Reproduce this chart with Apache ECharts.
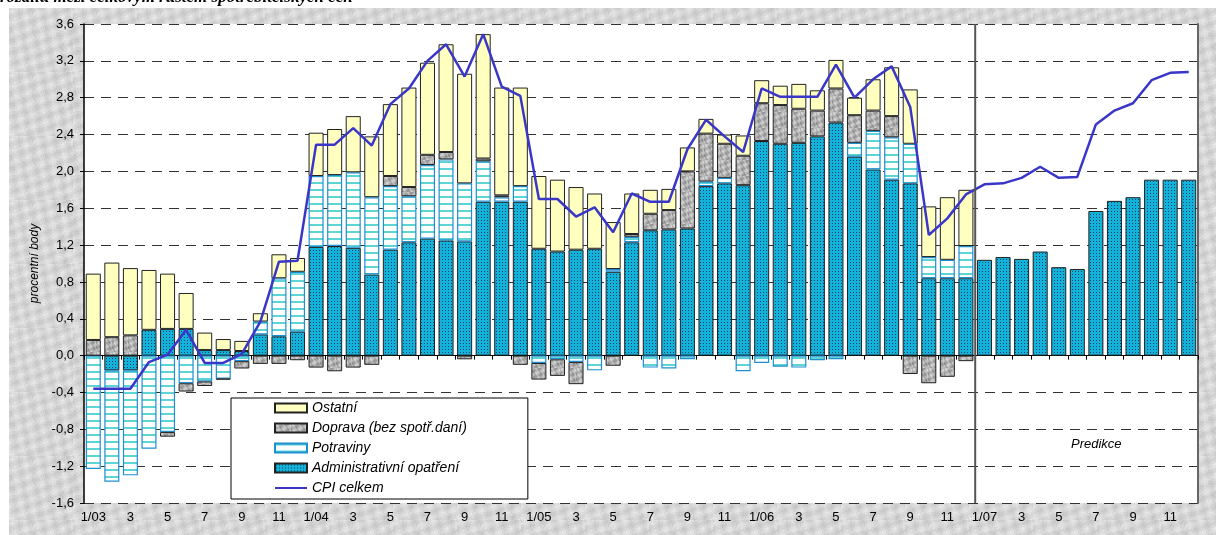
<!DOCTYPE html>
<html>
<head>
<meta charset="utf-8">
<script src="https://cdn.jsdelivr.net/npm/echarts@6/dist/echarts.min.js"></script>
<style>
html,body{margin:0;padding:0;background:#fff;}
#wrap{position:relative;width:1216px;height:535px;overflow:hidden;background:#fff;}
#tex{position:absolute;left:9px;top:8px;width:1207px;height:527px;}
#chart{position:absolute;left:0;top:0;width:1216px;height:535px;}
</style>
</head>
<body>
<div id="wrap"><div id="tex"></div><div id="chart"></div></div>
<script>
// ---------- DATA ----------
const categories = [
 '1/03','2','3','4','5','6','7','8','9','10','11','12',
 '1/04','2','3','4','5','6','7','8','9','10','11','12',
 '1/05','2','3','4','5','6','7','8','9','10','11','12',
 '1/06','2','3','4','5','6','7','8','9','10','11','12',
 '1/07','2','3','4','5','6','7','8','9','10','11','12'
];
const yTicks = [-1.6,-1.2,-0.8,-0.4,0,0.4,0.8,1.2,1.6,2.0,2.4,2.8,3.2,3.6];
const seriesNames = ['Ostatní','Doprava (bez spotř.daní)','Potraviny','Administrativní opatření','CPI celkem'];

const administrativni = [
 null,-0.16,-0.16,0.28,0.29,0.29,0.06,0.06,0.05,0.23,0.21,0.26,
 1.18,1.19,1.17,0.88,1.15,1.23,1.27,1.25,1.24,1.67,1.67,1.67,
 1.16,1.13,1.15,1.16,0.91,1.23,1.36,1.37,1.38,1.84,1.87,1.85,
 2.33,2.30,2.31,2.38,2.53,2.16,2.02,1.91,1.87,0.84,0.84,0.84,
 1.04,1.07,1.05,1.13,0.96,0.94,1.57,1.68,1.72,1.91,1.91,1.91
];
const potraviny = [
 -1.23,-1.21,-1.14,-1.01,-0.83,-0.30,-0.28,-0.25,-0.06,0.14,0.63,0.65,
 0.77,0.77,0.82,0.84,0.69,0.50,0.80,0.88,0.63,0.44,0.05,0.17,
 -0.08,-0.04,-0.07,-0.16,0.03,0.06,-0.13,-0.14,-0.04,0.05,0.06,-0.17,
 -0.08,-0.12,-0.13,-0.05,-0.04,0.15,0.42,0.46,0.43,0.23,0.20,0.35,
 null,null,null,null,null,null,null,null,null,null,null,null
];
const doprava = [
 0.17,0.20,0.22,null,-0.05,-0.09,-0.05,-0.01,-0.08,-0.09,-0.09,-0.05,
 -0.13,-0.17,-0.13,-0.10,0.11,0.10,0.11,0.08,-0.04,0.03,0.02,-0.10,
 -0.18,-0.18,-0.24,null,-0.11,0.03,0.18,0.21,0.62,0.52,0.37,0.32,
 0.41,0.42,0.37,0.28,0.37,0.30,0.22,0.23,-0.20,-0.30,-0.23,-0.06,
 null,null,null,null,null,null,null,null,null,null,null,null
];
const ostatni = [
 0.72,0.81,0.73,0.65,0.60,0.39,0.19,0.12,0.11,0.09,0.26,0.15,
 0.47,0.50,0.61,0.66,0.78,1.08,1.00,1.17,1.19,1.35,1.17,1.07,
 0.79,0.78,0.68,0.60,0.51,0.44,0.26,0.23,0.26,0.16,0.10,0.22,
 0.25,0.21,0.27,0.22,0.31,0.19,0.34,0.53,0.59,0.55,0.68,0.61,
 null,null,null,null,null,null,null,null,null,null,null,null
];
const cpiCelkem = [
 -0.36,-0.36,-0.36,-0.07,0.01,0.28,-0.08,-0.08,0.02,0.37,1.02,1.03,
 2.29,2.29,2.47,2.28,2.73,2.90,3.20,3.38,3.03,3.49,2.92,2.82,
 1.70,1.70,1.51,1.61,1.34,1.76,1.67,1.67,2.24,2.56,2.38,2.21,
 2.90,2.81,2.81,2.81,3.16,2.80,3.00,3.14,2.70,1.31,1.49,1.75,
 1.86,1.87,1.93,2.05,1.93,1.94,2.51,2.66,2.74,2.99,3.07,3.08
];
const titleText = 'rozdílu mezi celkovým růstem spotřebitelských cen';
const predikceText = 'Predikce';
const yAxisName = 'procentní body';

// ---------- PATTERNS (style only) ----------
function mk(w,h,draw){const c=document.createElement('canvas');c.width=w;c.height=h;draw(c.getContext('2d'),w,h);return c;}
const adminPat = mk(3,3,(g)=>{g.fillStyle='#12b2da';g.fillRect(0,0,3,3);g.fillStyle='#0a4466';g.fillRect(1,1,1,1);});
const potrPat = mk(4,7,(g)=>{g.fillStyle='#ffffff';g.fillRect(0,0,4,7);g.fillStyle='#5ed4d4';g.fillRect(0,0,4,2);});
const dopPat = mk(16,16,(g)=>{
  for(let y=0;y<16;y++)for(let x=0;x<16;x++){
    const v=Math.round(178+34*Math.sin(x*0.7+y*0.4)*Math.cos(y*0.6-x*0.3)+10*Math.sin(x*1.9-y*1.3));
    g.fillStyle='rgb('+v+','+v+','+v+')';g.fillRect(x,y,1,1);
  }
});
const texPat = mk(64,64,(g)=>{
  for(let y=0;y<64;y++)for(let x=0;x<64;x++){
    let h=((x*374761393)^(y*668265263))>>>0; h=((h^(h>>>13))*1274126177)>>>0; h=(h^(h>>>16))>>>0;
    const n=(h%1000)/1000;
    const s=Math.sin(x*0.35+y*0.22)*Math.cos(y*0.31-x*0.17);
    const v=Math.round(214+14*s+14*(n-0.5));
    g.fillStyle='rgb('+v+','+v+','+v+')';g.fillRect(x,y,1,1);
  }
});
document.getElementById('tex').style.backgroundImage='url('+texPat.toDataURL()+')';

// ---------- CHART ----------
const chart = echarts.init(document.getElementById('chart'), null, {renderer:'canvas'});
const FONT = "'Liberation Sans', Arial, sans-serif";
const fmt = v => (Math.round(v*10)/10).toFixed(1).replace('.',',');

const option = {
  animation:false,
  backgroundColor:'transparent',
  textStyle:{fontFamily:FONT},
  grid:{left:84,right:18,top:24,bottom:32,show:true,backgroundColor:'#ffffff',borderWidth:0},
  legend:{
    orient:'vertical',left:231,top:398,
    backgroundColor:'#ffffff',borderColor:'#000',borderWidth:1,
    padding:[3,61,4,43],itemGap:6,itemWidth:32,itemHeight:9,
    textStyle:{fontFamily:FONT,fontSize:14,fontStyle:'italic',color:'#000',lineHeight:14},
    data:[
      {name:seriesNames[0],icon:'rect'},
      {name:seriesNames[1],icon:'rect'},
      {name:seriesNames[2],icon:'rect'},
      {name:seriesNames[3],icon:'rect'},
      {name:seriesNames[4],icon:'path://M0,0 L32,0 L32,2 L0,2 Z'}
    ]
  },
  xAxis:[
    {type:'category',data:categories,position:'bottom',
     axisLine:{onZero:true,lineStyle:{color:'#000',width:1}},
     axisTick:{show:true,interval:0,length:4,lineStyle:{color:'#000'}},
     axisLabel:{show:false},splitLine:{show:false}},
    {type:'category',data:categories,position:'bottom',
     axisLine:{show:false,onZero:false},axisTick:{show:false},
     axisLabel:{show:true,interval:1,margin:8,fontFamily:FONT,fontSize:13,color:'#000'},
     splitLine:{show:false}}
  ],
  yAxis:[
    {type:'value',min:-1.6,max:3.6,interval:0.4,position:'left',
     name:yAxisName,nameLocation:'middle',nameGap:40,
     nameTextStyle:{fontFamily:FONT,fontSize:12,fontStyle:'italic',color:'#000'},
     axisLine:{show:true,lineStyle:{color:'#000',width:1.5}},
     axisTick:{show:true,length:4,lineStyle:{color:'#000'}},
     axisLabel:{formatter:fmt,fontFamily:FONT,fontSize:13,color:'#000',margin:10},
     splitLine:{show:true,lineStyle:{color:'#333',type:[10,7],width:1}}},
    {type:'value',min:-1.6,max:3.6,interval:0.4,position:'right',
     axisLine:{show:true,lineStyle:{color:'#666',width:2}},
     axisTick:{show:false},axisLabel:{show:false},splitLine:{show:false}}
  ],
  series:[
    {name:seriesNames[3],type:'bar',stack:'s',data:administrativni,barCategoryGap:'19%',
     itemStyle:{color:{image:adminPat,repeat:'repeat'},borderColor:'#222',borderWidth:1}},
    {name:seriesNames[2],type:'bar',stack:'s',data:potraviny,
     itemStyle:{color:{image:potrPat,repeat:'repeat'},borderColor:'#1f8fd0',borderWidth:1.2}},
    {name:seriesNames[1],type:'bar',stack:'s',data:doprava,
     itemStyle:{color:{image:dopPat,repeat:'repeat'},borderColor:'#222',borderWidth:1}},
    {name:seriesNames[0],type:'bar',stack:'s',data:ostatni,
     itemStyle:{color:'#ffffc0',borderColor:'#222',borderWidth:1}},
    {name:seriesNames[4],type:'line',data:cpiCelkem,symbol:'none',showSymbol:false,z:10,
     lineStyle:{color:'#3a36c8',width:2.5},itemStyle:{color:'#3a36c8'}}
  ]
};
chart.setOption(option);

// divider between 12/06 and 1/07, predikce label, title text
const p47 = chart.convertToPixel({xAxisIndex:0,yAxisIndex:0},[47,3.6]);
const p48 = chart.convertToPixel({xAxisIndex:0,yAxisIndex:0},[48,-1.6]);
const xDiv = (p47[0]+p48[0])/2;
chart.setOption({graphic:[
  {type:'line',shape:{x1:xDiv,y1:p47[1],x2:xDiv,y2:p48[1]},style:{stroke:'#555',lineWidth:2},z:100},
  {type:'text',left:1071,top:438,style:{text:predikceText,font:"italic 13px 'Liberation Sans', Arial",fill:'#000'},z:100},
  {type:'text',left:0,top:-11,style:{text:titleText,font:"italic bold 17px 'Liberation Serif', 'Times New Roman'",fill:'#000'},z:100}
]});
</script>
</body>
</html>
